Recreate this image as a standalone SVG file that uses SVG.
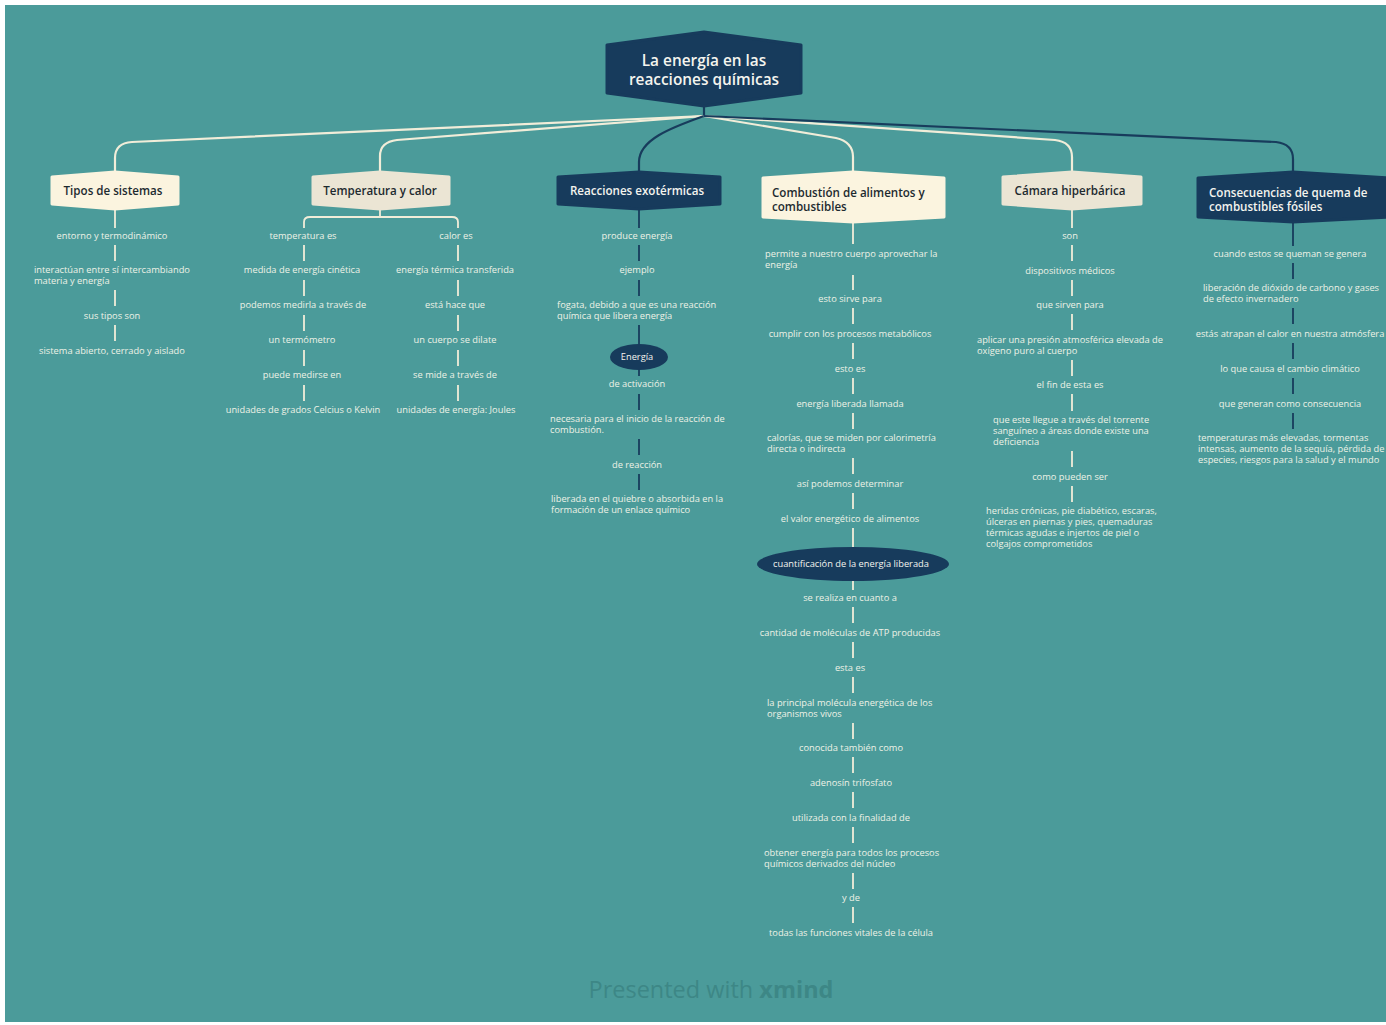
<svg xmlns="http://www.w3.org/2000/svg" width="1386" height="1025" viewBox="0 0 1386 1025">
<style>
.bg{fill:#4b9b9a}
.t{font-family:"Open Sans","Noto Sans",sans-serif;font-size:9.3px;fill:#eef2e6;text-anchor:middle}
.tl{font-family:"Open Sans","Noto Sans",sans-serif;font-size:9.3px;fill:#eef2e6}
.lc{stroke:#f1edd9;stroke-width:2.2;fill:none;stroke-linecap:round}
.dc{stroke:#183c5c;stroke-width:2.2;fill:none;stroke-linecap:round}
.lv{stroke:#f1edd9;stroke-width:1.8;fill:none}
.dv{stroke:#183c5c;stroke-width:1.8;fill:none}
.nl{fill:#fbf4df;stroke:#fbf4df;stroke-width:3;stroke-linejoin:round}
.nb{fill:#ebe5d4;stroke:#ebe5d4;stroke-width:3;stroke-linejoin:round}
.nd{fill:#173b5c;stroke:#173b5c;stroke-width:3;stroke-linejoin:round}
.lt{font-family:"Open Sans","Noto Sans",sans-serif;font-size:11.6px;font-weight:600;fill:#1d2a2f}
.dt{font-family:"Open Sans","Noto Sans",sans-serif;font-size:11.6px;font-weight:600;fill:#f4f4ee}
.tt{font-family:"Open Sans","Noto Sans",sans-serif;font-size:15.4px;font-weight:600;fill:#f4f4ee;text-anchor:middle}
.et{font-family:"Open Sans","Noto Sans",sans-serif;font-size:9.3px;fill:#f4f4ee;text-anchor:middle}
</style>
<rect width="1386" height="1025" fill="#ffffff"/>
<rect class="bg" x="5" y="5" width="1381" height="1017"/>

<g id="connectors">
<path class="dc" d="M704,106 L704,116"/>
<path class="lc" d="M704,116 L132,142 Q115,143 115,158 L115,174"/>
<path class="lc" d="M704,116 L397,140 Q380,142 380,156 L380,174"/>
<path class="dc" d="M704,116 C670,128 639,140 639,162 L639,174"/>
<path class="lc" d="M704,116 L836,138 Q853,142 853,157 L853,174"/>
<path class="lc" d="M704,116 L1055,140 Q1072,142 1072,157 L1072,174"/>
<path class="dc" d="M704,116 L1276,142 Q1293,144 1293,159 L1293,174"/>
<!-- Tipos -->
<path class="lv" d="M115,209 V228 M115,245 V261 M115,290 V306 M115,325 V341"/>
<!-- Temperatura -->
<path class="lv" d="M380,209 V217 M304,228 V222 Q304,217 310,217 H452 Q458,217 458,222 V228"/>
<path class="lv" d="M304,245 V261 M304,280 V296 M304,315 V331 M304,350 V366 M304,385 V401"/>
<path class="lv" d="M458,245 V261 M458,280 V296 M458,315 V331 M458,350 V366 M458,385 V401"/>
<!-- Reacciones -->
<path class="dv" d="M639,209 V228 M639,245 V261 M639,280 V296 M639,325 V376 M639,394 V410 M639,439 V455 M639,474 V490"/>
<!-- Combustion -->
<path class="lv" d="M853,222 V244 M853,275 V290 M853,308 V324 M853,343 V359 M853,378 V394 M853,413 V429 M853,458 V474 M853,493 V509 M853,528 V590 M853,607 V623 M853,642 V658 M853,677 V693 M853,723 V739 M853,757 V773 M853,792 V808 M853,827 V843 M853,873 V889 M853,907 V923"/>
<!-- Camara -->
<path class="lv" d="M1072,209 V228 M1072,245 V261 M1072,280 V296 M1072,314 V330 M1072,360 V376 M1072,394 V411 M1072,451 V467 M1072,486 V502"/>
<!-- Consecuencias -->
<path class="dv" d="M1293,222 V246 M1293,263 V279 M1293,308 V324 M1293,343 V359 M1293,378 V394 M1293,413 V429"/>
</g>

<g id="root">
<path class="nd" d="M607,45 L704,32 L801,45 L801,93 L704,106 L607,93 Z"/>
<text class="tt" x="704" y="66">La energía en las</text>
<text class="tt" x="704" y="85">reacciones químicas</text>
</g>

<g id="tipos">
<path class="nl" d="M52,177 L115,172 L178,177 L178,204 L115,209 L52,204 Z"/>
<text class="lt" x="113" y="195" text-anchor="middle">Tipos de sistemas</text>
</g>
<g id="temperatura">
<path class="nb" d="M313,177 L380,172 L449,177 L449,204 L380,209 L313,204 Z"/>
<text class="lt" x="380" y="195" text-anchor="middle">Temperatura y calor</text>
</g>
<g id="reacciones">
<path class="nd" d="M558,177 L639,172 L720,177 L720,204 L639,209 L558,204 Z"/>
<text class="dt" x="637" y="195" text-anchor="middle">Reacciones exotérmicas</text>
</g>
<g id="combustion">
<path class="nl" d="M763,178 L853,172 L944,178 L944,217 L853,222 L763,217 Z"/>
<text class="lt" x="772" y="197">Combustión de alimentos y</text>
<text class="lt" x="772" y="211">combustibles</text>
</g>
<g id="camara">
<path class="nb" d="M1003,177 L1072,172 L1141,177 L1141,204 L1072,209 L1003,204 Z"/>
<text class="lt" x="1070" y="195" text-anchor="middle">Cámara hiperbárica</text>
</g>
<g id="consecuencias">
<path class="nd" d="M1198,178 L1293,172 L1390,178 L1390,217 L1293,222 L1198,217 Z"/>
<text class="dt" x="1209" y="197">Consecuencias de quema de</text>
<text class="dt" x="1209" y="211">combustibles fósiles</text>
</g>

<g id="tipos-items">
<text class="t" x="112" y="239">entorno y termodinámico</text>
<text class="tl" x="34" y="273">interactúan entre sí intercambiando</text>
<text class="tl" x="34" y="284">materia y energía</text>
<text class="t" x="112" y="319">sus tipos son</text>
<text class="t" x="112" y="354">sistema abierto, cerrado y aislado</text>
</g>

<g id="temperatura-items">
<text class="t" x="303" y="239">temperatura es</text>
<text class="t" x="302" y="273">medida de energía cinética</text>
<text class="t" x="303" y="308">podemos medirla a través de</text>
<text class="t" x="302" y="343">un termómetro</text>
<text class="t" x="302" y="378">puede medirse en</text>
<text class="t" x="303" y="413">unidades de grados Celcius o Kelvin</text>
<text class="t" x="456" y="239">calor es</text>
<text class="t" x="455" y="273">energía térmica  transferida</text>
<text class="t" x="455" y="308">está  hace que</text>
<text class="t" x="455" y="343">un cuerpo se dilate</text>
<text class="t" x="455" y="378">se mide a través de</text>
<text class="t" x="456" y="413">unidades de energía: Joules</text>
</g>

<g id="reacciones-items">
<text class="t" x="637" y="239">produce energía</text>
<text class="t" x="637" y="273">ejemplo</text>
<text class="tl" x="557" y="308">fogata, debido a que es una reacción</text>
<text class="tl" x="557" y="319">química que libera energía</text>
<ellipse cx="639" cy="357" rx="29" ry="13" fill="#173b5c"/>
<text class="et" x="637" y="360">Energía</text>
<text class="t" x="637" y="387">de activación</text>
<text class="tl" x="550" y="422">necesaria para el inicio de la reacción de</text>
<text class="tl" x="550" y="433">combustión.</text>
<text class="t" x="637" y="468">de reacción</text>
<text class="tl" x="551" y="502">liberada en el quiebre o absorbida en la</text>
<text class="tl" x="551" y="513">formación de un enlace químico</text>
</g>

<g id="combustion-items">
<text class="tl" x="765" y="257">permite a nuestro cuerpo aprovechar la</text>
<text class="tl" x="765" y="268">energía</text>
<text class="t" x="850" y="302">esto sirve para</text>
<text class="t" x="850" y="337">cumplir con los procesos metabólicos</text>
<text class="t" x="850" y="372">esto es</text>
<text class="t" x="850" y="407">energía liberada llamada</text>
<text class="tl" x="767" y="441">calorías, que se miden por calorimetría</text>
<text class="tl" x="767" y="452">directa o indirecta</text>
<text class="t" x="850" y="487">así podemos determinar</text>
<text class="t" x="850" y="522">el valor energético de alimentos</text>
<ellipse cx="853" cy="564" rx="96" ry="17" fill="#173b5c"/>
<text class="et" x="851" y="567">cuantificación de la energía liberada</text>
<text class="t" x="850" y="601">se realiza en cuanto a</text>
<text class="t" x="850" y="636">cantidad de moléculas de ATP producidas</text>
<text class="t" x="850" y="671">esta es</text>
<text class="tl" x="767" y="706">la principal molécula energética de los</text>
<text class="tl" x="767" y="717">organismos vivos</text>
<text class="t" x="851" y="751">conocida también como</text>
<text class="t" x="851" y="786">adenosín trifosfato</text>
<text class="t" x="851" y="821">utilizada con la finalidad de</text>
<text class="tl" x="764" y="856">obtener energía para todos los procesos</text>
<text class="tl" x="764" y="867">químicos derivados del núcleo</text>
<text class="t" x="851" y="901">y de</text>
<text class="t" x="851" y="936">todas las funciones vitales de la célula</text>
</g>

<g id="camara-items">
<text class="t" x="1070" y="239">son</text>
<text class="t" x="1070" y="274">dispositivos médicos</text>
<text class="t" x="1070" y="308">que sirven para</text>
<text class="tl" x="977" y="343"> aplicar una presión atmosférica elevada de</text>
<text class="tl" x="977" y="354">oxígeno puro al cuerpo</text>
<text class="t" x="1070" y="388">el fin de esta es</text>
<text class="tl" x="993" y="423">que este llegue a través del torrente</text>
<text class="tl" x="993" y="434">sanguíneo a áreas donde existe una</text>
<text class="tl" x="993" y="445">deficiencia</text>
<text class="t" x="1070" y="480">como pueden ser</text>
<text class="tl" x="986" y="514">heridas crónicas, pie diabético, escaras,</text>
<text class="tl" x="986" y="525">úlceras en piernas y pies, quemaduras</text>
<text class="tl" x="986" y="536">térmicas agudas e injertos de piel o</text>
<text class="tl" x="986" y="547">colgajos comprometidos</text>
</g>

<g id="consecuencias-items">
<text class="t" x="1290" y="257">cuando estos se queman se genera</text>
<text class="tl" x="1203" y="291">liberación de dióxido de carbono y gases</text>
<text class="tl" x="1203" y="302">de efecto invernadero</text>
<text class="t" x="1290" y="337">estás atrapan el calor en nuestra atmósfera</text>
<text class="t" x="1290" y="372">lo que causa el cambio climático</text>
<text class="t" x="1290" y="407">que generan como consecuencia</text>
<text class="tl" x="1198" y="441">temperaturas más elevadas, tormentas</text>
<text class="tl" x="1198" y="452">intensas, aumento de la sequía, pérdida de</text>
<text class="tl" x="1198" y="463">especies, riesgos para la salud y el mundo</text>
</g>

<text x="711" y="998" text-anchor="middle" font-family="'Open Sans','Noto Sans',sans-serif" font-size="23.5" fill="#3d8786">Presented with <tspan font-weight="700">xmind</tspan></text>
</svg>
